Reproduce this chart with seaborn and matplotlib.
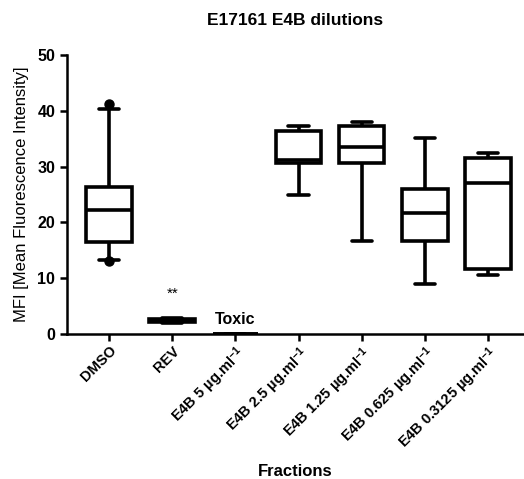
import pandas as pd
import matplotlib
matplotlib.use("Agg")
import matplotlib.pyplot as plt
import seaborn as sns

# groups on the x axis
fractions = ["DMSO", "REV", "E4B 5 µg.ml$^{-1}$", "E4B 2.5 µg.ml$^{-1}$",
             "E4B 1.25 µg.ml$^{-1}$", "E4B 0.625 µg.ml$^{-1}$",
             "E4B 0.3125 µg.ml$^{-1}$"]

# min, q1, median, q3, max
dmso = [13.3, 16.4, 22.3, 26.4, 40.4]
rev = [1.9, 2.05, 2.4, 2.75, 2.9]
e4b_5 = [0.0, 0.0, 0.0, 0.0, 0.0]
e4b_2_5 = [24.9, 30.6, 31.1, 36.4, 37.3]
e4b_1_25 = [16.7, 30.6, 33.6, 37.3, 38.0]
e4b_0_625 = [9.0, 16.7, 21.6, 25.9, 35.2]
e4b_0_3125 = [10.5, 11.7, 27.0, 31.5, 32.5]

# extreme DMSO points drawn as dots
dmso_dots = [41.2, 13.0]

groups = [dmso, rev, e4b_5, e4b_2_5, e4b_1_25, e4b_0_625, e4b_0_3125]
df = pd.DataFrame({
    "Fractions": [f for f, g in zip(fractions, groups) for _ in g],
    "MFI": [v for g in groups for v in g],
})

sns.set_style("ticks")
plt.rcParams["font.family"] = ["Liberation Sans", "DejaVu Sans"]
plt.rcParams["mathtext.default"] = "regular"
# plain black text and axes
for key in ["text.color", "axes.labelcolor", "xtick.color", "ytick.color",
            "axes.edgecolor"]:
    plt.rcParams[key] = "black"

fig = plt.figure(figsize=(5.24, 4.79), dpi=100)
ax = fig.add_axes([0.128, 0.303, 0.872, 0.582])

lw = 2.6
sns.boxplot(data=df, x="Fractions", y="MFI", order=fractions, whis=(0, 100),
            width=0.72, color="white", linecolor="black", linewidth=lw,
            showfliers=False, ax=ax, capwidths=0.32,
            medianprops=dict(color="black", linewidth=lw),
            capprops=dict(color="black", linewidth=lw),
            whiskerprops=dict(color="black", linewidth=lw))

ax.plot([0] * len(dmso_dots), dmso_dots, "o", color="black", markersize=6.5)

ax.text(1, 6.0, "**", ha="center", va="bottom", fontsize=11)
ax.text(2, 1.2, "Toxic", ha="center", va="bottom", fontsize=11.5, fontweight="bold")

ax.set_xlim(-0.665, 6.57)
ax.set_ylim(0, 50)
ax.set_yticks([0, 10, 20, 30, 40, 50])

for s in ["left", "bottom"]:
    ax.spines[s].set_linewidth(1.8)
sns.despine(ax=ax)
ax.tick_params(width=1.8, length=5, labelsize=11.5)
ax.tick_params(axis="x", pad=2)
plt.setp(ax.get_yticklabels(), fontweight="bold")
plt.setp(ax.get_xticklabels(), rotation=45, ha="right", rotation_mode="anchor",
         fontweight="bold", fontsize=10.5)

ax.set_title("E17161 E4B dilutions", fontsize=12.5, fontweight="bold", pad=22)
ax.set_ylabel("MFI [Mean Fluorescence Intensity]", fontsize=12, labelpad=6)
ax.set_xlabel("Fractions", fontsize=12, fontweight="bold", labelpad=8)

fig.savefig("out.png", dpi=100)
